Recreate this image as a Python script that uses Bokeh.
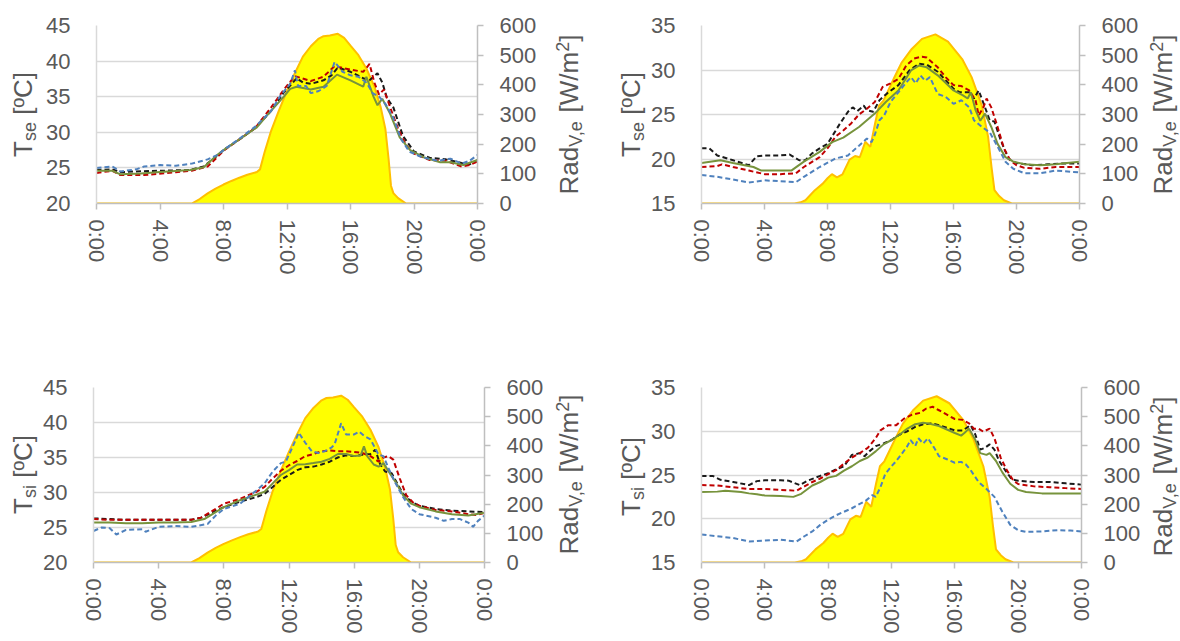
import math
from bokeh.plotting import figure
from bokeh.models import Range1d, LinearAxis, FixedTicker, Label
from bokeh.layouts import row, column
from bokeh.embed import file_html
from bokeh.resources import INLINE

# ---------------- data ----------------
x_ticks = [0, 4, 8, 12, 16, 20, 24]
x_tick_labels = ["0:00", "4:00", "8:00", "12:00", "16:00", "20:00", "0:00"]
rad_ticks = [0, 100, 200, 300, 400, 500, 600]

# Vertical solar radiation (shared by left-hand panels / right-hand panels)
rad1_h = [0, 6.0, 6.5, 7.0, 7.5, 8.0, 8.5, 9.0, 9.5, 10.1, 10.3, 10.6, 11.0, 11.5, 12.0, 12.5,
          13.0, 13.5, 14.0, 14.3, 14.7, 15.2, 15.6, 16.0, 16.5, 17.0, 17.5, 17.9, 18.2, 18.4,
          18.55, 18.7, 19.0, 19.5, 24]
rad1_v = [0, 0, 15, 34, 50, 64, 76, 87, 97, 106, 115, 175, 245, 315, 380, 440,
          495, 530, 556, 564, 566, 572, 558, 532, 500, 455, 395, 325, 250, 150,
          60, 35, 18, 0, 0]
rad2_h = [0, 5.9, 6.3, 6.6, 7.2, 7.7, 8.0, 8.28, 8.6, 8.95, 9.4, 9.75, 10.05, 10.4, 10.72,
          11.03, 11.27, 11.55, 11.88, 12.28, 12.72, 13.35, 14.0, 14.85, 15.65, 16.55, 17.15,
          17.8, 18.2, 18.42, 18.6, 18.9, 19.2, 19.7, 24]
rad2_v = [0, 0, 4, 11, 45, 67, 85, 99, 88, 98, 148, 160, 156, 208, 191,
          272, 330, 347, 384, 429, 476, 521, 555, 570, 546, 487, 426,
          330, 224, 120, 45, 25, 11, 0, 0]

# Panel 1: T_se (left)
p1_black_h = [0, 1, 1.5, 2.5, 4, 5.9, 6.75, 7.6, 8.0, 9.0, 10.0, 11.0, 11.8, 12.3, 12.6, 13.0, 13.5,
              14.3, 14.8, 15.2, 16.0, 16.8, 17.2, 17.7, 18.0, 18.3, 18.7, 19.3, 20.0, 21.0, 22.0,
              23.0, 23.5, 24]
p1_black_t = [24.7, 24.8, 24.4, 24.5, 24.6, 24.7, 25.2, 26.7, 27.5, 29.0, 30.6, 33.0, 35.6, 36.8, 37.6,
              37.0, 36.8, 37.3, 38.0, 39.1, 38.5, 37.6, 37.3, 38.3, 37.0, 34.8, 33.5, 29.5, 27.3, 26.4,
              26.2, 25.7, 25.5, 26.1]
p1_red_h = [0, 1, 1.5, 3, 5, 6, 7, 7.6, 8, 9, 10, 11, 11.8, 12.5, 13.5, 14.3, 15.0, 16.0, 16.8, 17.2,
            17.5, 17.8, 18.1, 18.5, 19.0, 19.5, 20, 21, 22, 23, 23.5, 24]
p1_red_t = [24.3, 24.6, 24.0, 24.0, 24.4, 24.6, 25.2, 26.5, 27.4, 29.0, 30.6, 33.5, 36.0, 37.9, 37.2,
            37.8, 39.3, 38.8, 38.5, 39.6, 37.0, 35.3, 36.0, 33.5, 30.5, 28.2, 27.0, 26.1, 26.0, 25.2,
            25.4, 25.9]
p1_green_h = [0, 1, 1.5, 2.8, 3.8, 5.9, 6.75, 7.6, 8.0, 9.06, 10.1, 10.95, 11.8, 12.2, 12.6, 13.5, 14.3,
              15.15, 16.0, 16.8, 17.0, 17.45, 17.7, 18.0, 18.5, 19.1, 19.76, 20.6, 21.65, 22.3, 23.1, 24]
p1_green_t = [24.6, 24.6, 24.1, 24.2, 24.4, 24.7, 25.1, 26.8, 27.5, 29.1, 30.7, 32.9, 35.0, 36.1, 36.4,
              36.0, 36.4, 38.1, 37.3, 36.4, 37.8, 35.0, 33.8, 34.7, 32.6, 29.3, 27.5, 26.5, 25.8, 25.8,
              25.4, 26.1]
p1_blue_h = [0, 1, 1.5, 2.5, 3, 4, 5, 6, 7, 7.6, 8, 9, 10, 11, 11.6, 12.2, 12.5, 12.7, 13.2, 13.5, 14.0,
             14.5, 15.0, 15.5, 16.0, 16.5, 17.0, 17.4, 17.8, 18.2, 18.7, 19.2, 19.7, 20.5, 21.5, 22.3,
             23.0, 23.5, 24]
p1_blue_t = [25.0, 25.2, 24.5, 24.8, 25.2, 25.4, 25.3, 25.6, 26.2, 26.8, 27.5, 29.1, 30.8, 33.0, 35.2,
             36.8, 38.7, 36.5, 36.5, 35.5, 35.8, 36.5, 39.9, 38.5, 38.0, 37.8, 37.0, 35.5, 35.0, 34.0,
             32.0, 29.0, 27.3, 26.5, 26.0, 26.3, 25.6, 26.0, 26.8]

# Panel 2: T_se (right)
p2_black_h = [0, 0.5, 1, 2, 3, 3.5, 4, 5, 5.6, 6.2, 6.6, 7.0, 7.5, 8.0, 8.4, 8.8, 9.3, 9.6, 9.9, 10.3,
              10.5, 10.9, 11.3, 11.8, 12.5, 13.2, 13.8, 14.3, 15, 16, 16.4, 17.0, 17.3, 17.6, 18.0,
              18.3, 18.6, 19.0, 19.5, 20, 21, 22, 23, 24]
p2_black_t = [21.2, 21.2, 20.4, 19.86, 19.3, 20.3, 20.4, 20.4, 20.5, 19.86, 19.86, 20.6, 21.2, 21.7,
              22.85, 24.0, 25.3, 25.8, 25.4, 26.0, 25.5, 25.3, 26.6, 27.4, 28.3, 29.95, 30.7, 30.6,
              29.8, 27.9, 27.5, 27.5, 26.8, 27.7, 25.8, 24.35, 24.2, 22.1, 20.0, 19.56, 19.3, 19.4,
              19.5, 19.5]
p2_red_h = [0, 1, 1.3, 2, 3, 4, 5, 6, 6.5, 7.5, 8.0, 8.5, 9, 9.5, 10, 10.5, 11.0, 11.5, 12, 12.5, 13.0,
            13.5, 14.0, 14.3, 15, 15.5, 16, 16.5, 17.0, 17.4, 17.6, 17.9, 18.1, 18.4, 18.8, 19.2,
            19.6, 20, 20.5, 21.5, 22.5, 23.5, 24]
p2_red_t = [19.1, 19.2, 19.4, 19.1, 18.7, 18.3, 18.3, 18.4, 19.1, 20.2, 21.2, 22.5, 23.2, 24.0, 25.0,
            25.65, 26.4, 28.1, 28.5, 29.0, 30.5, 31.3, 31.5, 31.4, 30.3, 29.2, 28.3, 28.2, 27.7, 26.6,
            24.9, 25.8, 26.8, 25.8, 23.6, 21.2, 19.86, 19.3, 19.0, 18.9, 19.1, 19.1, 19.1]
p2_green_h = [0, 1.2, 2, 3.3, 3.8, 5.7, 6.5, 7.5, 8.3, 9, 10, 11, 11.7, 12.5, 13.3, 13.8, 14.3, 15, 16,
              16.6, 16.9, 17.1, 17.4, 17.7, 18.0, 18.4, 18.8, 19.3, 19.8, 20.5, 21.5, 22.5, 23.2, 24]
p2_green_t = [19.56, 19.86, 19.56, 19.1, 18.7, 18.7, 19.7, 20.8, 21.9, 22.4, 23.6, 25.1, 26.4, 27.7,
              29.95, 30.5, 30.3, 29.4, 27.7, 27.15, 26.8, 27.5, 25.5, 24.3, 25.1, 23.6, 21.7, 20.2,
              19.7, 19.4, 19.3, 19.4, 19.56, 19.7]
p2_blue_h = [0, 1, 2, 3, 4, 5, 6, 6.5, 7.5, 8.5, 9.3, 10, 10.5, 10.8, 11.0, 11.3, 11.6, 12, 12.5, 13,
             13.3, 13.6, 13.9, 14.2, 14.5, 15, 15.5, 16, 16.5, 17, 17.3, 17.8, 18.3, 18.8, 19.3, 19.8,
             20.5, 21.5, 22.5, 23.5, 24]
p2_blue_t = [18.2, 18.0, 17.7, 17.35, 17.6, 17.5, 17.4, 18.0, 19.1, 20.05, 20.4, 21.5, 22.3, 21.9,
             22.7, 24.35, 24.9, 26.4, 27.5, 28.6, 29.2, 28.5, 29.4, 28.8, 29.2, 27.3, 27.0, 26.2,
             26.6, 25.8, 24.35, 23.6, 23.0, 21.4, 19.7, 18.9, 18.4, 18.4, 18.7, 18.55, 18.5]

# Panel 3: T_si (left)
p3_black_h = [0, 1, 2, 4, 6, 6.6, 7.5, 8, 9, 10, 10.5, 11, 11.5, 12, 12.5, 13, 13.5, 14, 14.5, 15,
              15.5, 16, 16.5, 17, 17.3, 17.6, 17.9, 18.3, 18.7, 19, 19.5, 20, 21, 22, 23, 24]
p3_black_t = [26.3, 26.2, 26.1, 26.1, 26.1, 26.4, 27.4, 27.9, 28.7, 29.35, 29.8, 30.8, 31.8, 32.5,
              33.2, 33.6, 33.7, 34.0, 34.4, 35.0, 35.3, 35.2, 35.4, 35.5, 36.1, 34.0, 33.0, 32.75,
              31.05, 29.8, 28.7, 28.1, 27.65, 27.4, 27.3, 27.2]
p3_red_h = [0, 1, 3, 6, 6.6, 7.5, 8, 9, 10, 10.5, 11, 11.5, 12, 12.5, 13, 13.5, 14, 14.5, 15, 15.5, 16,
            16.5, 17.0, 17.5, 17.8, 18.1, 18.4, 18.8, 19.2, 19.6, 20, 21, 22, 23, 23.5, 24]
p3_red_t = [26.2, 26.1, 26.1, 26.1, 26.4, 27.65, 28.4, 29.1, 30.1, 30.8, 32.0, 33.1, 33.9, 34.5, 35.2,
            35.5, 35.9, 36.0, 35.9, 35.9, 35.8, 35.65, 35.2, 34.4, 35.0, 35.2, 34.7, 32.0, 29.6, 28.6,
            28.1, 27.5, 27.3, 26.9, 26.8, 27.1]
p3_green_h = [0, 1, 2, 3, 4, 5, 6, 6.8, 7.5, 8, 9, 10, 10.5, 11, 11.5, 12, 12.5, 13, 13.5, 14, 14.5, 15,
              15.5, 16, 16.4, 16.6, 16.8, 17.2, 17.5, 17.8, 18.2, 18.6, 19, 19.5, 20, 21, 22, 23, 24]
p3_green_t = [25.7, 25.7, 25.6, 25.6, 25.7, 25.7, 25.8, 26.2, 27.2, 27.9, 28.9, 29.7, 30.1, 31.3, 32.5,
              33.2, 34.0, 34.05, 34.2, 34.4, 34.8, 35.5, 35.5, 35.2, 35.3, 36.6, 35.2, 34.0, 33.7, 34.2,
              32.7, 31.3, 29.6, 28.4, 27.9, 27.3, 26.9, 26.7, 27.1]
p3_blue_h = [0, 0.5, 1, 1.4, 2, 3, 3.2, 4, 5, 6, 7, 7.5, 8, 9, 10, 10.5, 11, 11.5, 11.8, 12.2, 12.6, 13,
             13.4, 13.8, 14.2, 14.6, 14.8, 15.2, 15.5, 16, 16.3, 16.6, 17, 17.5, 17.8, 18.1, 18.5, 19,
             19.5, 20, 21, 21.5, 22, 22.5, 23, 23.3, 23.6, 24]
p3_blue_t = [24.5, 25.0, 24.9, 24.0, 24.65, 24.75, 24.4, 25.1, 25.2, 25.1, 25.5, 26.7, 27.65, 28.4,
             30.3, 31.3, 33.0, 34.2, 34.4, 36.4, 38.55, 37.1, 35.9, 35.65, 35.9, 36.4, 36.9, 39.9,
             38.3, 38.3, 38.7, 38.1, 37.6, 35.4, 35.2, 33.5, 31.5, 29.35, 27.65, 26.9, 26.4, 25.95,
             26.2, 26.2, 25.7, 25.1, 25.95, 26.7]

# Panel 4: T_si (right)
p4_black_h = [0, 0.7, 1.2, 2, 3, 3.5, 4, 5, 5.5, 6.2, 6.7, 7.5, 8.0, 8.5, 9, 9.5, 10, 10.3, 10.6, 11,
              11.5, 12, 12.5, 13, 13.5, 14, 14.5, 15, 15.5, 16, 16.5, 17, 17.3, 17.6, 17.9, 18.2,
              18.5, 18.8, 19.2, 19.6, 20, 21, 22, 23, 24]
p4_black_t = [24.9, 24.9, 24.45, 24.2, 23.85, 24.3, 24.4, 24.4, 24.35, 23.85, 24.35, 24.9, 25.2, 25.65,
              26.0, 27.3, 27.5, 27.15, 27.7, 28.3, 28.6, 29.0, 29.6, 30.0, 30.5, 30.8, 30.9, 30.7,
              30.4, 30.1, 30.1, 30.7, 29.6, 27.9, 28.1, 28.5, 27.9, 26.6, 25.5, 24.5, 24.35, 24.2,
              24.2, 24.05, 23.9]
p4_red_h = [0, 1, 2, 3, 4, 5, 6, 6.5, 7, 7.5, 8, 8.5, 9, 9.5, 10, 10.5, 11, 11.3, 11.8, 12.3, 12.8,
            13.3, 13.8, 14.2, 14.6, 15, 15.5, 16, 16.5, 16.9, 17.2, 17.5, 17.8, 18.2, 18.5, 18.9,
            19.3, 19.7, 20, 21, 22, 23, 24]
p4_red_t = [23.85, 23.8, 23.6, 23.4, 23.4, 23.3, 23.2, 23.7, 24.2, 24.6, 25.1, 25.55, 26.3, 27.0, 27.5,
            28.1, 29.2, 30.1, 30.7, 30.7, 31.45, 31.9, 32.1, 32.6, 32.8, 32.4, 31.9, 31.4, 31.3, 30.9,
            30.3, 30.3, 29.95, 30.3, 29.2, 26.96, 25.5, 24.35, 23.97, 23.7, 23.6, 23.5, 23.4]
p4_green_h = [0, 1, 1.5, 2.5, 3, 3.5, 4, 5, 5.8, 6.3, 7, 7.5, 8, 8.5, 9, 9.5, 10, 10.5, 11, 11.5, 12,
              12.5, 13, 13.5, 14, 14.3, 15, 15.5, 16, 16.4, 16.6, 16.9, 17.3, 17.6, 18.0, 18.2, 18.6,
              19, 19.5, 20, 20.5, 21.5, 22.5, 23.5, 24]
p4_green_t = [23.05, 23.1, 23.2, 23.05, 22.9, 22.8, 22.65, 22.6, 22.5, 22.85, 23.8, 24.2, 24.7, 24.9,
              25.5, 26.0, 26.6, 27.0, 27.7, 28.5, 29.0, 29.6, 30.3, 30.8, 30.96, 30.9, 30.6, 30.2,
              29.8, 29.5, 29.8, 30.3, 29.0, 27.5, 27.3, 27.5, 26.6, 25.3, 24.0, 23.3, 23.05, 22.9,
              22.9, 22.9, 22.9]
p4_blue_h = [0, 1, 2, 3, 4, 5, 6, 6.5, 7, 7.5, 8, 8.5, 9, 9.5, 10, 10.4, 10.8, 11, 11.3, 11.6, 12,
             12.3, 12.6, 13, 13.2, 13.5, 13.7, 14, 14.3, 14.7, 15, 15.5, 16, 16.4, 16.7, 17, 17.5, 18,
             18.5, 19, 19.5, 20, 20.5, 21.5, 22.5, 23.3, 24]
p4_blue_t = [18.2, 18.0, 17.8, 17.4, 17.5, 17.6, 17.4, 18.0, 18.55, 19.3, 19.9, 20.4, 20.8, 21.2, 21.7,
             22.1, 22.7, 22.5, 23.6, 25.1, 26.0, 26.6, 27.3, 28.3, 29.0, 28.3, 29.2, 28.6, 29.2, 28.1,
             27.15, 26.8, 26.4, 26.5, 26.2, 25.55, 24.2, 23.4, 22.5, 20.8, 19.3, 18.7, 18.5, 18.55,
             18.7, 18.65, 18.55]

# ---------------- styling ----------------
FONT = "Liberation Sans"
TXT = "#595959"
GRID = "#d9d9d9"
AXIS = "#bfbfbf"
C_BLACK = "#1a1a1a"
C_RED = "#c00000"
C_GREEN = "#77933c"
C_BLUE = "#4f81bd"
C_FILL = "#ffff00"
C_EDGE = "#ffc000"

# approximate Arial advance widths (em) used to chain title pieces
ADV = {"T": 0.611, "s": 0.5, "e": 0.556, "i": 0.222, " ": 0.278, "[": 0.278, "]": 0.278,
       "º": 0.365, "C": 0.722, "R": 0.722, "a": 0.556, "d": 0.556, "V": 0.667, ",": 0.278,
       "W": 0.944, "/": 0.278, "m": 0.833, "2": 0.556}
MID = 0.3465   # distance (em) from the text middle to its baseline
SP = 0.278 * 26  # width of a space in the title font


def text_len(t, size):
    return sum(ADV.get(c, 0.556) for c in t) * size


# (text, font size, baseline shift to the right, gap before the piece)
def left_parts(sub):
    return [("T", 26, 0, 0), (sub, 18, 4, 0), ("[ºC]", 26, 0, SP)]


RIGHT_PARTS = [("Rad", 26, 0, 0), ("V,e", 18, 4, 0), ("[W/m", 26, 0, SP), ("2", 18, -10, 0),
               ("]", 26, 0, 0)]


def title_fig(w, h, bt, bb, parts, bx, cy):
    """Narrow figure holding a rotated (bottom-to-top) axis title.  Its frame is aligned by the
    row layout with the neighbouring plot frame (borders bt/bb), so the data range is chosen so
    that one data unit is one pixel, measured upward from the bottom of the figure."""
    t = figure(width=w, height=h, x_range=Range1d(0, w), y_range=Range1d(bb, h - bt),
               output_backend="svg", toolbar_location=None, title=None,
               x_axis_location=None, y_axis_location=None,
               min_border=0, min_border_left=0, min_border_right=0,
               min_border_top=bt, min_border_bottom=bb,
               background_fill_color="white", border_fill_color="white")
    t.outline_line_color = None
    t.grid.visible = False
    total = sum(text_len(s, fs) + g for s, fs, _, g in parts)
    pos = (h - cy) - total / 2.0
    for s, fs, sh, gap in parts:
        pos += gap
        t.add_layout(Label(x=bx + sh - MID * fs, y=pos, text=s, angle=math.pi / 2,
                           text_align="left", text_baseline="middle",
                           text_font=FONT, text_font_size=f"{fs}px", text_color=TXT))
        pos += text_len(s, fs)
    return t


def make_panel(w, h, bl, br, bt, bb, ylo, yhi, yticks, series, rad_h, rad_v):
    p = figure(width=w, height=h, x_range=Range1d(0, 24), y_range=Range1d(ylo, yhi),
               output_backend="svg", toolbar_location=None, title=None,
               min_border_left=bl, min_border_right=br, min_border_top=bt, min_border_bottom=bb,
               background_fill_color="white", border_fill_color="white")
    p.outline_line_color = None
    p.extra_y_ranges = {"rad": Range1d(0, 600)}

    p.xgrid.grid_line_color = None
    p.ygrid.grid_line_color = GRID
    p.ygrid.grid_line_width = 1.5
    p.ygrid.ticker = FixedTicker(ticks=yticks)

    ya = p.yaxis[0]
    ya.ticker = FixedTicker(ticks=yticks)
    ya.axis_line_color = GRID
    ya.axis_line_width = 1.5
    ya.major_tick_line_color = None
    ya.minor_tick_line_color = None
    ya.major_label_standoff = 20
    ya.major_label_text_font = FONT
    ya.major_label_text_font_size = "22px"
    ya.major_label_text_color = TXT

    xa = p.xaxis[0]
    xa.ticker = FixedTicker(ticks=x_ticks)
    xa.major_label_overrides = {k: v for k, v in zip(x_ticks, x_tick_labels)}
    xa.major_label_orientation = -math.pi / 2
    xa.axis_line_color = AXIS
    xa.axis_line_width = 1.5
    xa.major_tick_line_color = AXIS
    xa.major_tick_line_width = 1.5
    xa.major_tick_in = 0
    xa.major_tick_out = 6
    xa.minor_tick_line_color = None
    xa.major_label_standoff = 10
    xa.major_label_text_font = FONT
    xa.major_label_text_font_size = "22px"
    xa.major_label_text_color = TXT

    ra = LinearAxis(y_range_name="rad", ticker=FixedTicker(ticks=rad_ticks))
    ra.axis_line_color = AXIS
    ra.axis_line_width = 1.5
    ra.major_tick_line_color = AXIS
    ra.major_tick_line_width = 1.5
    ra.major_tick_in = 0
    ra.major_tick_out = 6
    ra.minor_tick_line_color = None
    ra.major_label_standoff = 16
    ra.major_label_text_font = FONT
    ra.major_label_text_font_size = "22px"
    ra.major_label_text_color = TXT
    p.add_layout(ra, "right")

    p.varea(x=rad_h, y1=[0] * len(rad_h), y2=rad_v, fill_color=C_FILL, y_range_name="rad")
    p.line(rad_h, rad_v, line_color=C_EDGE, line_width=2, y_range_name="rad")

    (bh, bv), (rh, rv), (gh, gv), (uh, uv) = series
    p.line(bh, bv, line_color=C_BLACK, line_width=2, line_dash="5 3")
    p.line(rh, rv, line_color=C_RED, line_width=2, line_dash="5 3")
    p.line(gh, gv, line_color=C_GREEN, line_width=2)
    p.line(uh, uv, line_color=C_BLUE, line_width=2, line_dash="5 3")
    return p


# column widths: [title 40][plot 509][title 51][title 48][plot 497][title 35] = 1180
H1, H2 = 320, 321
T1, B1 = 25, 117      # row 1 frame borders (top, bottom)
T2, B2 = 67, 79       # row 2 frame borders

p1 = make_panel(509, H1, 56, 72, T1, B1, 20, 45, [20, 25, 30, 35, 40, 45],
                [(p1_black_h, p1_black_t), (p1_red_h, p1_red_t), (p1_green_h, p1_green_t),
                 (p1_blue_h, p1_blue_t)], rad1_h, rad1_v)
p2 = make_panel(497, H1, 53, 66, T1, B1, 15, 35, [15, 20, 25, 30, 35],
                [(p2_black_h, p2_black_t), (p2_red_h, p2_red_t), (p2_green_h, p2_green_t),
                 (p2_blue_h, p2_blue_t)], rad2_h, rad2_v)
p3 = make_panel(509, H2, 51, 65, T2, B2, 20, 45, [20, 25, 30, 35, 40, 45],
                [(p3_black_h, p3_black_t), (p3_red_h, p3_red_t), (p3_green_h, p3_green_t),
                 (p3_blue_h, p3_blue_t)], rad1_h, rad1_v)
p4 = make_panel(497, H2, 53, 64, T2, B2, 15, 35, [15, 20, 25, 30, 35],
                [(p4_black_h, p4_black_t), (p4_red_h, p4_red_t), (p4_green_h, p4_green_t),
                 (p4_blue_h, p4_blue_t)], rad2_h, rad2_v)

tl1 = title_fig(40, H1, T1, B1, left_parts("se"), 32, 114)
tr1 = title_fig(51, H1, T1, B1, RIGHT_PARTS, 578 - 549, 114)
tl2 = title_fig(48, H1, T1, B1, left_parts("se"), 640 - 600, 114)
tr2 = title_fig(35, H1, T1, B1, RIGHT_PARTS, 1172 - 1145, 114)
tl3 = title_fig(40, H2, T2, B2, left_parts("si"), 32, 154)
tr3 = title_fig(51, H2, T2, B2, RIGHT_PARTS, 578 - 549, 154)
tl4 = title_fig(48, H2, T2, B2, left_parts("si"), 640 - 600, 156)
tr4 = title_fig(35, H2, T2, B2, RIGHT_PARTS, 1172 - 1145, 156)

layout = column(row(tl1, p1, tr1, tl2, p2, tr2), row(tl3, p3, tr3, tl4, p4, tr4))
open("out.html", "w").write(file_html(layout, INLINE))
